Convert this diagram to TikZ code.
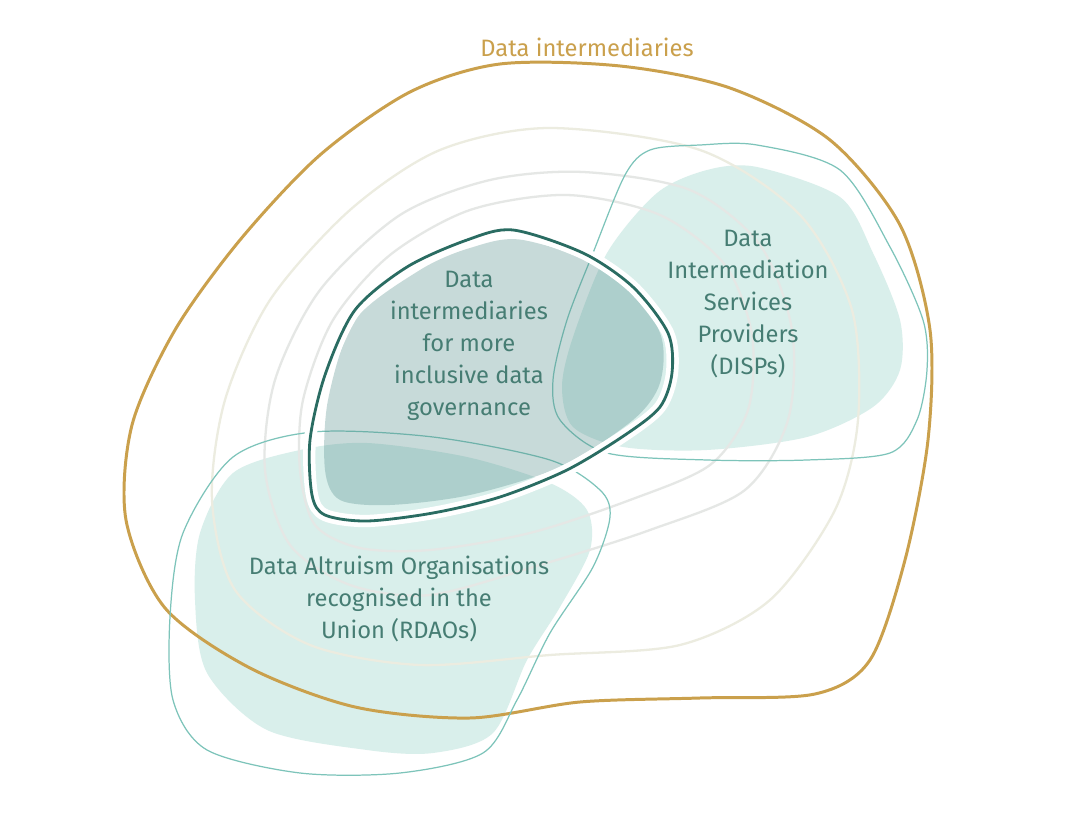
\documentclass[tikz,border=0pt]{standalone}
\usepackage{fontspec}
\setmainfont{Fira Sans}
\usetikzlibrary{positioning}
\definecolor{gold}{RGB}{202,160,76}
\definecolor{deepteal}{RGB}{42,108,98}
\definecolor{txtteal}{RGB}{70,125,115}
\definecolor{paleteal}{RGB}{217,239,235}
\definecolor{thinteal}{RGB}{125,196,186}
\definecolor{coregrey}{RGB}{83,142,139}
\definecolor{ringbeige}{RGB}{236,236,224}
\definecolor{ringgrey}{RGB}{229,231,229}
\tikzset{
  fil/.style={fill=paleteal, draw=none},
  lin/.style={draw=thinteal, line width=0.7pt},
  rng/.style={line width=1.3pt},
  lab/.style={align=center, text=txtteal, inner sep=0pt, font=\fontsize{13.5}{18.2}\selectfont}
}

\begin{document}
\begin{tikzpicture}[x=0.02cm, y=-0.02cm]
  \useasboundingbox[fill=white] (0,0) rectangle (1076,817);
  % pale fills of the two groups
  \fill[fil] plot[smooth cycle] coordinates {(757,167) (840,197) (873,253) (900,320) (900,370) (873,407) (807,437) (707,450) (623,447) (573,427) (562,387) (573,337) (607,253) (657,193) (707,170)};
  \fill[fil] plot[smooth cycle] coordinates {(367,443) (467,457) (550,483) (587,510) (590,550) (560,607) (527,660) (493,733) (433,753) (367,750) (267,730) (207,673) (195,600) (200,533) (233,473) (300,450)};
  % faint rings
  \draw[rng, ringbeige] plot[smooth cycle] coordinates {(550,128) (700,150) (800,215) (852,310) (858,420) (835,510) (770,600) (680,645) (550,655) (420,665) (310,645) (235,590) (212,500) (225,400) (270,300) (350,210) (440,150)};
  \draw[rng, ringgrey] plot[smooth cycle] coordinates {(583,172) (690,190) (760,245) (792,330) (788,420) (745,490) (650,530) (540,565) (430,595) (350,585) (290,545) (265,470) (275,380) (320,290) (400,215) (490,180)};
  \draw[rng, ringgrey] plot[smooth cycle] coordinates {(567,195) (660,215) (725,265) (752,335) (748,410) (710,465) (630,500) (530,533) (430,550) (360,548) (315,525) (300,470) (303,400) (333,320) (390,255) (470,210)};
  % outer boundary
  \draw[gold, line width=1.7pt] plot[smooth cycle] coordinates {(500,64) (620,66) (730,88) (830,140) (900,225) (930,330) (928,440) (905,560) (870,660) (815,694) (700,698) (580,702) (470,718) (355,707) (250,668) (165,608) (126,520) (132,425) (175,330) (240,240) (320,155) (410,92)};
  % thin outlines
  \draw[lin] plot[smooth cycle] coordinates {(650,150) (700,145) (757,145) (840,170) (890,247) (923,320) (927,370) (917,420) (890,453) (807,460) (707,460) (607,453) (560,420) (553,380) (567,320) (593,253) (625,175)};
  \draw[lin] plot[smooth cycle] coordinates {(313,432) (433,437) (550,460) (600,490) (610,517) (593,567) (550,633) (517,700) (483,753) (400,773) (300,773) (207,750) (173,700) (170,617) (183,533) (233,457)};
  % core group
  \fill[coregrey, fill opacity=0.32] plot[smooth cycle] coordinates {(523,240) (617,273) (660,333) (660,383) (633,420) (560,467) (470,495) (390,505) (340,500) (325,470) (328,400) (355,320) (420,270) (470,248)};
  \draw[deepteal, line width=1.6pt, preaction={draw=white, line width=7pt}] plot[smooth cycle] coordinates {(513,230) (583,253) (633,287) (668,333) (672,373) (660,407) (625,435) (567,470) (500,497) (433,513) (367,521) (325,515) (312,495) (310,440) (325,375) (355,310) (407,267) (467,240)};
  % labels
  \node[lab, text=gold] (title) at (587,47) {Data intermediaries};
  \node[lab] (core) at (469,346) {Data\\intermediaries\\for more\\inclusive data\\governance};
  \node[lab] (disps) at (748,304) {Data\\Intermediation\\Services\\Providers\\(DISPs)};
  \node[lab] (rdaos) at (399,598.5) {Data Altruism Organisations\\recognised in the\\Union (RDAOs)};
\end{tikzpicture}
\end{document}
